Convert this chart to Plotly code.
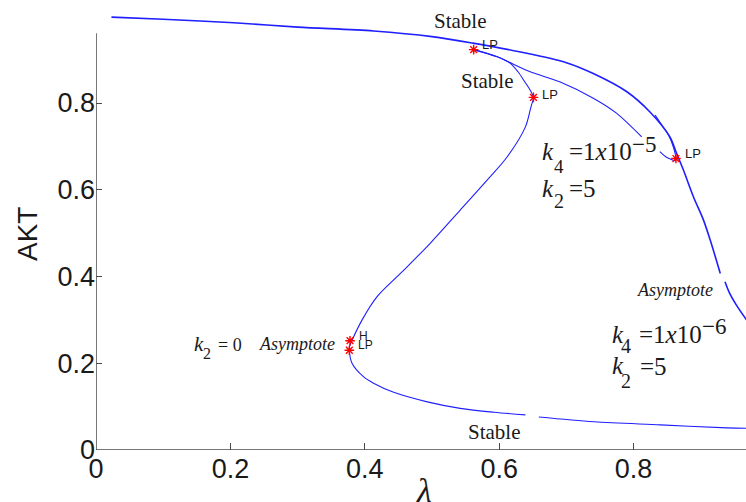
import plotly.graph_objects as go

# ---- branch data (lambda, AKT) ----
# k4 = 1e-6, k2 = 5 : upper branch running off to the right
main_x = [0.023, 0.100, 0.205, 0.300, 0.413, 0.500, 0.561, 0.630, 0.700, 0.740,
          0.790, 0.824, 0.854, 0.864, 0.874, 0.889, 0.904, 0.914, 0.929, None,
          0.936, 0.943, 0.953, 0.968]
main_y = [0.998, 0.993, 0.985, 0.975, 0.966, 0.953, 0.938, 0.918, 0.893, 0.868,
          0.826, 0.780, 0.722, 0.684, 0.646, 0.584, 0.530, 0.484, 0.407, None,
          0.388, 0.361, 0.334, 0.300]

# k4 = 1e-5, k2 = 5 : branch leaving the upper fold, with its hook back up
k4b_x = [0.562, 0.596, 0.646, 0.690, 0.740, 0.775, 0.812, None,
         0.839, 0.849, 0.862, 0.863, 0.859, 0.852, 0.842, 0.832]
k4b_y = [0.923, 0.907, 0.872, 0.849, 0.811, 0.776, 0.722, None,
         0.688, 0.675, 0.667, 0.672, 0.699, 0.726, 0.749, 0.772]

# k2 = 0 : S-shaped curve folding back to the lower stable branch
k20_x = [0.562, 0.596, 0.616, 0.628, 0.638, 0.646, 0.651, 0.648, 0.646, 0.639,
         0.612, 0.582, 0.542, 0.497, 0.453, 0.418, 0.396, 0.381, 0.3775, 0.377,
         0.381, 0.398, 0.413, 0.443, 0.493, 0.542, 0.592, 0.639, None,
         0.659, 0.741, 0.840, 0.939, 0.968]
k20_y = [0.923, 0.907, 0.892, 0.872, 0.849, 0.830, 0.813, 0.795, 0.783, 0.745,
         0.676, 0.622, 0.553, 0.476, 0.407, 0.353, 0.300, 0.253, 0.240, 0.230,
         0.200, 0.169, 0.154, 0.133, 0.111, 0.096, 0.087, 0.081, None,
         0.076, 0.065, 0.058, 0.051, 0.050]

# special points: limit points (LP) and Hopf (H)
pt_x = [0.562, 0.651, 0.863, 0.378, 0.377]
pt_y = [0.923, 0.813, 0.672, 0.252, 0.230]
pt_label = ["LP", "LP", "LP", "H", "LP"]

x_ticks = [0, 0.2, 0.4, 0.6, 0.8]
y_ticks = [0, 0.2, 0.4, 0.6, 0.8]
x_tick_text = ["0", "0.2", "0.4", "0.6", "0.8"]
y_tick_text = ["0", "0.2", "0.4", "0.6", "0.8"]

W, H = 746, 502
L, B = 96, 52
X_MAX = (W - L) / 672.0
Y_MAX = (H - B) / 433.75


def at(px, py):
    """Canvas pixel position -> axis coordinates (for text placement)."""
    return (px - L) / 672.0, (H - B - py) / 433.75


BLUE = "#1f1fff"
SERIF = "Liberation Serif"
SANS = "Liberation Sans"
INK = "#1a1a1a"

fig = go.Figure()
fig.add_trace(go.Scatter(x=main_x, y=main_y, mode="lines",
                         line=dict(color=BLUE, width=1.6, shape="spline", smoothing=0.9),
                         connectgaps=False, hoverinfo="skip", showlegend=False))
fig.add_trace(go.Scatter(x=k4b_x, y=k4b_y, mode="lines",
                         line=dict(color=BLUE, width=1.1, shape="spline", smoothing=0.7),
                         connectgaps=False, hoverinfo="skip", showlegend=False))
fig.add_trace(go.Scatter(x=k20_x, y=k20_y, mode="lines",
                         line=dict(color=BLUE, width=1.1, shape="spline", smoothing=0.9),
                         connectgaps=False, hoverinfo="skip", showlegend=False))
fig.add_trace(go.Scatter(x=pt_x, y=pt_y, mode="markers",
                         marker=dict(symbol="asterisk-open", size=8, color="red",
                                     line=dict(color="red", width=1.4)),
                         hoverinfo="skip", showlegend=False))

ann = []


def text(px, py, s, size, font=SERIF, xanchor="left", italic=False, angle=0):
    x, y = at(px, py)
    if italic:
        s = "<i>" + s + "</i>"
    ann.append(dict(x=x, y=y, xref="x", yref="y", text=s, showarrow=False,
                    xanchor=xanchor, yanchor="middle", textangle=angle,
                    font=dict(family=font, size=size, color=INK)))


def mid(baseline, size):
    return baseline - 0.337 * size


# point labels next to the markers
lp_offsets = [(6, -5), (7, -2.5), (7, -5), (7, -5), (7, -5)]
lp_sizes = [13, 13, 13, 12, 12]
for xv, yv, lab, (dx, dy), sz in zip(pt_x, pt_y, pt_label, lp_offsets, lp_sizes):
    px = L + xv * 672.0
    py = (H - B) - yv * 433.75
    x, y = at(px + dx, py + dy)
    ann.append(dict(x=x, y=y, xref="x", yref="y", text=lab, showarrow=False,
                    xanchor="left", yanchor="middle",
                    font=dict(family=SANS, size=sz, color=INK)))

# stability labels
text(460, mid(28.3, 21), "Stable", 21, xanchor="center")
text(487, mid(88.3, 21), "Stable", 21, xanchor="center")
text(494, mid(439.3, 21), "Stable", 21, xanchor="center")

# asymptote labels
text(257, mid(350, 18), "Asymptote", 18, italic=True)
text(635, mid(296, 18), "Asymptote", 18, italic=True)

# k4 = 1x10^-5, k2 = 5
text(540, mid(160, 25), "k", 25, italic=True)
text(552, mid(173, 19), "4", 19)
text(567, mid(160, 25), "=1<i>x</i>10", 25)
text(630, mid(152, 23), "−5", 23)
text(540, mid(197, 25), "k", 25, italic=True)
text(552, mid(208, 20), "2", 20)
text(567, mid(197, 25), "=5", 25)

# k4 = 1x10^-6, k2 = 5
text(610, mid(343, 25), "k", 25, italic=True)
text(619, mid(353, 20), "4", 20)
text(637, mid(343, 25), "=1<i>x</i>10", 25)
text(700, mid(334, 23), "−6", 23)
text(610, mid(374, 25), "k", 25, italic=True)
text(619, mid(388, 20), "2", 20)
text(638, mid(375, 25), "=5", 25)

# k2 = 0
text(192, mid(351, 21), "k", 21, italic=True)
text(201, mid(359, 16), "2", 16)
text(216, mid(351, 18), "= 0", 18)

# axis titles
ann.append(dict(x=(423.5 - L) / 650.0, y=-(470 - (H - B)) / 450.0,
                xref="paper", yref="paper", text="<i>λ</i>", showarrow=False,
                xanchor="center", yanchor="top",
                font=dict(family=SERIF, size=34, color=INK)))
ann.append(dict(x=(27.5 - L) / 650.0, y=(H - B - 234.5) / 450.0,
                xref="paper", yref="paper", text="AKT", showarrow=False,
                xanchor="center", yanchor="middle", textangle=-90,
                font=dict(family=SANS, size=28, color=INK)))

AXIS = "#4a4a4a"
shapes = [
    dict(type="line", xref="x", yref="y", x0=0, x1=0, y0=0, y1=0.961,
         line=dict(color=AXIS, width=1.5)),
    dict(type="line", xref="paper", yref="y", x0=0, x1=1, y0=0, y1=0,
         line=dict(color=AXIS, width=1.5)),
]

tick_font = dict(family=SANS, size=27, color=INK)
fig.update_layout(
    width=W, height=H,
    margin=dict(l=L, r=0, t=0, b=B, pad=0),
    paper_bgcolor="white", plot_bgcolor="white",
    annotations=ann, shapes=shapes,
    xaxis=dict(range=[0, X_MAX], tickvals=x_ticks, ticktext=x_tick_text,
               ticks="inside", ticklen=7, tickwidth=1.2, tickcolor=AXIS,
               showgrid=False, zeroline=False, showline=False,
               tickfont=tick_font),
    yaxis=dict(range=[0, Y_MAX], tickvals=y_ticks, ticktext=y_tick_text,
               ticks="inside", ticklen=6, tickwidth=1.2, tickcolor=AXIS,
               showgrid=False, zeroline=False, showline=False,
               tickfont=tick_font),
)

fig.write_html("out.html")
